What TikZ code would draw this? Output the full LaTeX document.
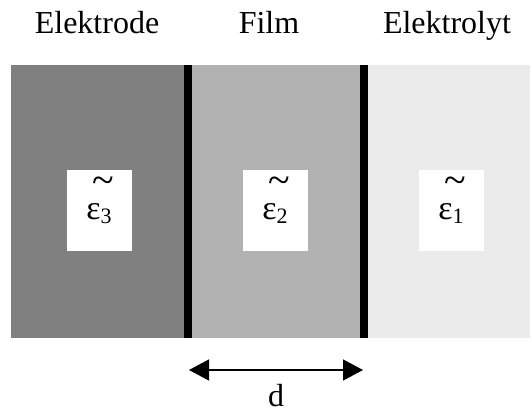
\documentclass[tikz,border=0pt]{standalone}
\usepackage{fontspec}
\setmainfont{Liberation Serif}
\usetikzlibrary{arrows.meta,positioning}

\newcommand{\tildeover}{\makebox[0pt][l]{\hspace{6pt}\raisebox{26pt}{\fontsize{40}{44}\selectfont\char`\~}}}

\begin{document}
\begin{tikzpicture}[x=1pt,y=-1pt,
  head/.style={font=\fontsize{32}{36}\selectfont, anchor=base},
  epsbox/.style={fill=white, minimum width=65pt, minimum height=81pt, inner sep=0pt},
  eps/.style={font=\fontsize{34}{38}\selectfont, anchor=base, inner sep=0pt}]
\useasboundingbox (0,0) rectangle (530,412);
% the three layers
\fill [black!50] (11,65) rectangle (184,338);
\fill [black!30] (192,65) rectangle (360,338);
\fill [black!8] (368,65) rectangle (530,338);
% interfaces
\fill [black] (184,65) rectangle (192,338);
\fill [black] (360,65) rectangle (368,338);
% headings
\node [head] (elektrode) at (97,34) {Elektrode};
\node [head] (film) at (269,34) {Film};
\node [head] (elektrolyt) at (447,34) {Elektrolyt};
% permittivities
\node [epsbox] (bx3) at (99.5,210.5) {};
\node [epsbox] (bx2) at (275.5,210.5) {};
\node [epsbox] (bx1) at (451.5,210.5) {};
\node [eps] (e3) at (99,219) {\tildeover ε\raisebox{-4pt}{\fontsize{22}{26}\selectfont 3}};
\node [eps] (e2) at (275,219) {\tildeover ε\raisebox{-4pt}{\fontsize{22}{26}\selectfont 2}};
\node [eps] (e1) at (451,219) {\tildeover ε\raisebox{-4pt}{\fontsize{22}{26}\selectfont 1}};
% thickness of the film
\coordinate (dl) at (189,370);
\coordinate (dr) at (363,370);
\draw [{Triangle[length=20pt,width=21pt]}-{Triangle[length=20pt,width=21pt]}, line width=1.3pt] (dl) -- (dr);
\node [head] (d) at (276,406) {d};
\end{tikzpicture}
\end{document}
